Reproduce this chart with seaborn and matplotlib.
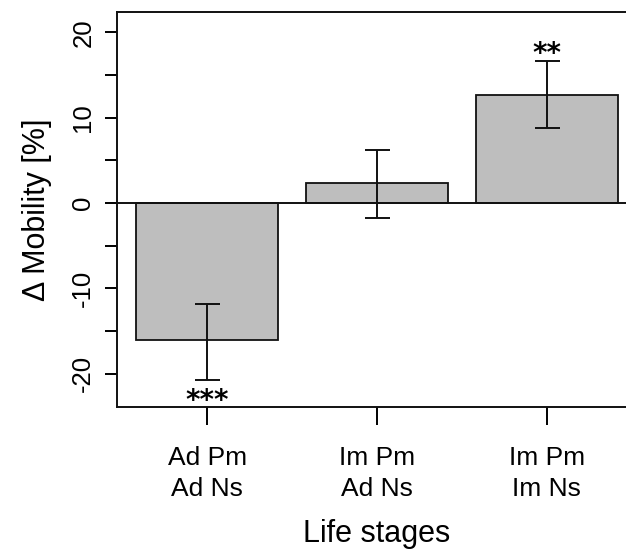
import numpy as np
import pandas as pd
import seaborn as sns
import matplotlib
matplotlib.use("Agg")
import matplotlib.pyplot as plt

# data
stages = ["Ad Pm\nAd Ns", "Im Pm\nAd Ns", "Im Pm\nIm Ns"]
delta_mobility = [-16.1, 2.35, 12.7]
ci_low = [-20.75, -1.8, 8.85]
ci_high = [-11.8, 6.2, 16.7]
stars = ["***", "", "**"]
yticks = [-20, -15, -10, -5, 0, 5, 10, 15, 20]
yticklabels = ["-20", "", "-10", "", "0", "", "10", "", "20"]

sns.set_style("white")
plt.rcParams["font.family"] = ["Liberation Sans", "DejaVu Sans"]
plt.rcParams["text.color"] = "black"
plt.rcParams["axes.labelcolor"] = "black"
plt.rcParams["xtick.color"] = "black"
plt.rcParams["ytick.color"] = "black"

df = pd.DataFrame({"stage": stages, "delta": delta_mobility})

fig = plt.figure(figsize=(6.26, 5.5), dpi=100)
# R-style plot region; right edge runs a bit past the image like the original
ax = fig.add_axes([117 / 626, 1 - 407 / 550, 520 / 626, 395 / 550])

sns.barplot(data=df, x="stage", y="delta", color="#bebebe", width=0.833,
            edgecolor="#111111", linewidth=1.3, saturation=1, ax=ax, zorder=2)

xpos = np.arange(len(stages))
mean = np.array(delta_mobility)
yerr = [mean - np.array(ci_low), np.array(ci_high) - mean]
ax.errorbar(xpos, mean, yerr=yerr, fmt="none", ecolor="#111111",
            elinewidth=1.4, capsize=9, capthick=1.4, zorder=3)

ax.axhline(0, color="#111111", lw=1.4, zorder=4)

# significance marks
for i, s in enumerate(stars):
    if not s:
        continue
    if mean[i] < 0:
        ax.text(i, ci_low[i] - 2.45, s, ha="center", va="center",
                fontsize=20, family="DejaVu Sans", fontweight="bold")
    else:
        ax.text(i, ci_high[i] + 0.8, s, ha="center", va="center",
                fontsize=20, family="DejaVu Sans", fontweight="bold")

ax.set_xlim(-0.53, 2.53)
ax.set_ylim(-23.9, 22.4)
ax.set_yticks(yticks)
ax.set_yticklabels(yticklabels, rotation=90, va="center")
for lab in ax.get_xticklabels():
    lab.set_linespacing(1.35)
ax.tick_params(axis="y", length=8.6, width=1.4, pad=7, labelsize=18.5,
               direction="out", left=True)
ax.tick_params(axis="x", length=13, width=1.4, pad=15, labelsize=19,
               direction="out", bottom=True)
for sp in ax.spines.values():
    sp.set_linewidth(1.4)
    sp.set_color("#111111")

ax.set_xlabel("Life stages", fontsize=22, labelpad=13)
ax.set_ylabel("Δ Mobility [%]", fontsize=22, labelpad=14)

fig.savefig("out.png", dpi=100)
